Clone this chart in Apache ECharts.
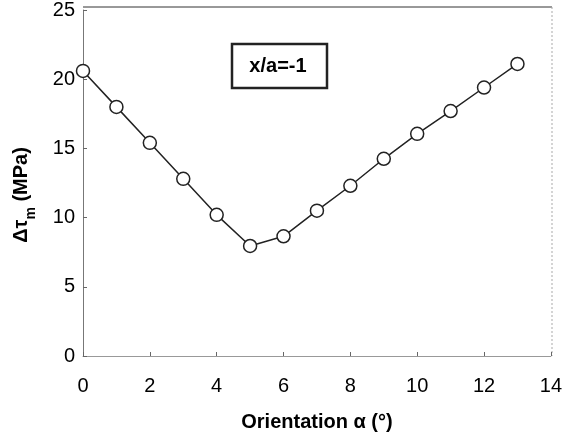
<!DOCTYPE html>
<html>
<head>
<meta charset="utf-8">
<script src="https://cdn.jsdelivr.net/npm/echarts@6/dist/echarts.min.js"></script>
<style>
  html, body { margin: 0; padding: 0; background: #fff; }
  #charts { width: 565px; height: 441px; }
</style>
</head>
<body>
<div id="charts"></div>
<script>
var alpha = [0, 1, 2, 3, 4, 5, 6, 7, 8, 9, 10, 11, 12, 13];
var dtau = [20.6, 18.0, 15.4, 12.8, 10.2, 7.95, 8.65, 10.5, 12.3, 14.25, 16.05, 17.7, 19.4, 21.1];
var boxLabel = 'x/a=-1';

var myChart = echarts.init(document.getElementById('charts'));
var points = alpha.map(function (a, i) { return [a, dtau[i]]; });

var option = {
    backgroundColor: '#fff',
    animation: false,
    textStyle: { fontFamily: 'Liberation Sans, Arial, sans-serif' },
    grid: { left: 83, right: 13, top: 7, bottom: 85 },
    xAxis: {
        type: 'value',
        min: 0, max: 14, interval: 2,
        name: 'Orientation α (°)',
        nameLocation: 'middle',
        nameGap: 56,
        nameTextStyle: { fontSize: 20, fontWeight: 'bold', color: '#000' },
        axisLine: { onZero: false, lineStyle: { color: '#999', width: 1 } },
        axisTick: { inside: true, length: 4, lineStyle: { color: '#666' } },
        axisLabel: { fontSize: 20, color: '#000', margin: 20 },
        splitLine: { show: false }
    },
    yAxis: {
        type: 'value',
        min: 0, max: 25, interval: 5,
        name: 'Δτ{s|m} (MPa)',
        nameLocation: 'middle',
        nameGap: 52,
        nameRotate: 90,
        nameTextStyle: {
            fontSize: 20, fontWeight: 'bold', color: '#000',
            padding: [0, 24, 0, 0],
            rich: { s: { fontSize: 14, fontWeight: 'bold', color: '#000', verticalAlign: 'bottom', padding: [0, 0, -7, 0] } }
        },
        axisLine: { lineStyle: { color: '#777', width: 1 } },
        axisTick: { inside: true, length: 4, lineStyle: { color: '#666' } },
        axisLabel: { fontSize: 20, color: '#000', margin: 8 },
        splitLine: { show: false }
    },
    graphic: [
        {
            type: 'line',
            shape: { x1: 83, y1: 7, x2: 552, y2: 7 },
            style: { stroke: '#333', lineWidth: 1 },
            silent: true
        },
        {
            type: 'line',
            shape: { x1: 552, y1: 7, x2: 552, y2: 356 },
            style: { stroke: '#aaa', lineWidth: 1, lineDash: [2, 2] },
            silent: true
        },
        {
            type: 'rect',
            shape: { x: 232, y: 44, width: 95, height: 44 },
            style: { fill: '#fff', stroke: '#222', lineWidth: 2.5 },
            silent: true
        },
        {
            type: 'text',
            x: 278, y: 66,
            style: {
                text: boxLabel, fontSize: 20, fontWeight: 'bold', fill: '#000',
                align: 'center', verticalAlign: 'middle',
                fontFamily: 'Liberation Sans, Arial, sans-serif'
            },
            silent: true
        }
    ],
    series: [{
        type: 'line',
        data: points,
        symbol: 'circle',
        symbolSize: 13,
        lineStyle: { color: '#222', width: 1.5 },
        itemStyle: { color: '#fff', borderColor: '#222', borderWidth: 1.5 }
    }]
};
myChart.setOption(option);
</script>
</body>
</html>
